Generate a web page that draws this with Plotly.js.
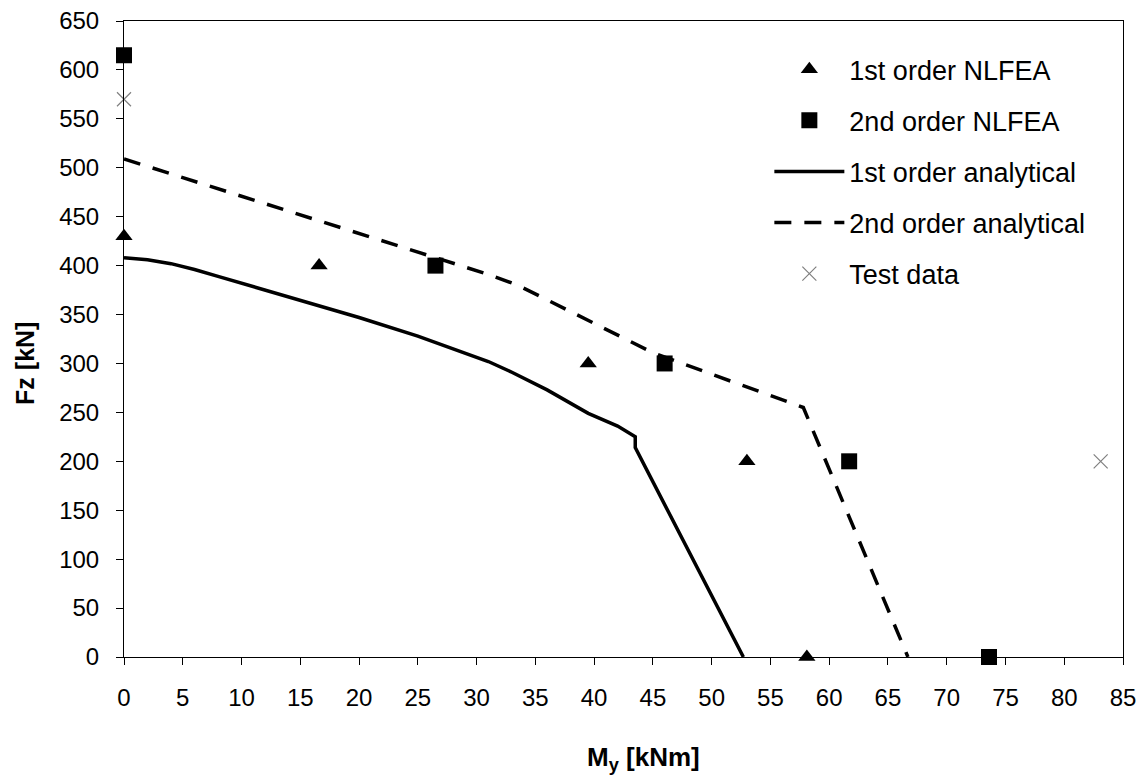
<!DOCTYPE html>
<html>
<head>
<meta charset="utf-8">
<script src="https://cdn.plot.ly/plotly-3.0.1.min.js"></script>
<style>
  html, body { margin: 0; padding: 0; background: #fff; }
  #chart { width: 1145px; height: 780px; }
</style>
</head>
<body>
<div id="chart"></div>
<script>
// Interaction diagram: axial force Fz versus bending moment My

// 1st order NLFEA results
const nl1_My = [0, 16.6, 39.5, 53.0, 58.1];
const nl1_Fz = [430, 400, 300, 200, 0];

// 2nd order NLFEA results
const nl2_My = [0, 26.5, 46.0, 61.7, 73.6];
const nl2_Fz = [615, 400, 300, 200, 0];

// 1st order analytical curve
const an1_My = [0, 2, 4, 6, 8, 10, 15, 20, 25, 31, 33, 36, 39.5, 42, 43.5, 43.5, 52.7];
const an1_Fz = [408, 406, 402, 396, 389, 382, 365, 347, 328, 302, 291, 273, 249, 236, 225, 214, 0];

// 2nd order analytical curve
const an2_My = [0, 10, 20, 27, 31, 33.5, 36, 40, 45, 50, 55, 57.8, 66.7];
const an2_Fz = [509, 471, 433, 406, 391, 380, 365, 341, 311, 289, 267, 255, 0];

// Test data
const test_My = [0, 83.1];
const test_Fz = [570, 200];

// Axis titles
const xTitle = '<b>M<sub>y</sub> [kNm]</b>';
const yTitle = '<b>Fz [kN]</b>';

const FONT = 'Liberation Sans, Arial, sans-serif';

const traces = [
  {
    x: nl1_My, y: nl1_Fz, name: '1st order NLFEA', mode: 'markers', type: 'scatter',
    legendgroup: 'a', cliponaxis: false,
    marker: { symbol: 'triangle-up', size: 15, color: '#000' }
  },
  {
    x: nl2_My, y: nl2_Fz, name: '2nd order NLFEA', mode: 'markers', type: 'scatter',
    legendgroup: 'b', cliponaxis: false,
    marker: { symbol: 'square', size: 16, color: '#000' }
  },
  {
    x: an1_My, y: an1_Fz, name: '1st order analytical', mode: 'lines', type: 'scatter',
    legendgroup: 'c', cliponaxis: false,
    line: { color: '#000', width: 3.5 }
  },
  {
    x: an2_My, y: an2_Fz, name: '2nd order analytical', mode: 'lines', type: 'scatter',
    legendgroup: 'd', cliponaxis: false,
    line: { color: '#000', width: 3.5, dash: '17px,13px' }
  },
  {
    x: test_My, y: test_Fz, name: 'Test data', mode: 'markers', type: 'scatter',
    legendgroup: 'e', cliponaxis: false,
    marker: { symbol: 'x-thin', size: 14, color: '#808080', line: { color: '#808080', width: 1.2 } }
  }
];

const axisCommon = {
  showgrid: false,
  zeroline: false,
  showline: true,
  linecolor: '#000',
  linewidth: 1,
  mirror: true,
  ticks: 'outside',
  ticklen: 7,
  tickwidth: 1,
  tickcolor: '#000',
  ticklabelstandoff: 12,
  tickfont: { family: FONT, size: 24, color: '#000' }
};

const layout = {
  width: 1145,
  height: 780,
  paper_bgcolor: '#fff',
  plot_bgcolor: '#fff',
  margin: { l: 124, r: 22, t: 21, b: 123 },
  font: { family: FONT, color: '#000' },
  xaxis: Object.assign({}, axisCommon, { range: [0, 85], dtick: 5, tick0: 0 }),
  yaxis: Object.assign({}, axisCommon, { range: [0, 650], dtick: 50, tick0: 0 }),
  annotations: [
    {
      text: xTitle, xref: 'paper', yref: 'paper', x: 0.52, y: -0.159,
      xanchor: 'center', yanchor: 'middle', showarrow: false,
      font: { family: FONT, size: 26, color: '#000' }
    },
    {
      text: yTitle, xref: 'paper', yref: 'paper', x: -0.099, y: 0.461,
      xanchor: 'center', yanchor: 'middle', showarrow: false, textangle: -90,
      font: { family: FONT, size: 25, color: '#000' }
    }
  ],
  showlegend: true,
  legend: {
    x: 0.646, y: 0.962, xanchor: 'left', yanchor: 'top',
    bgcolor: 'rgba(255,255,255,0)',
    borderwidth: 0,
    font: { family: FONT, size: 27, color: '#000' },
    itemwidth: 70,
    tracegroupgap: 13
  }
};

Plotly.newPlot('chart', traces, layout, { displayModeBar: false, staticPlot: true });
</script>
</body>
</html>
